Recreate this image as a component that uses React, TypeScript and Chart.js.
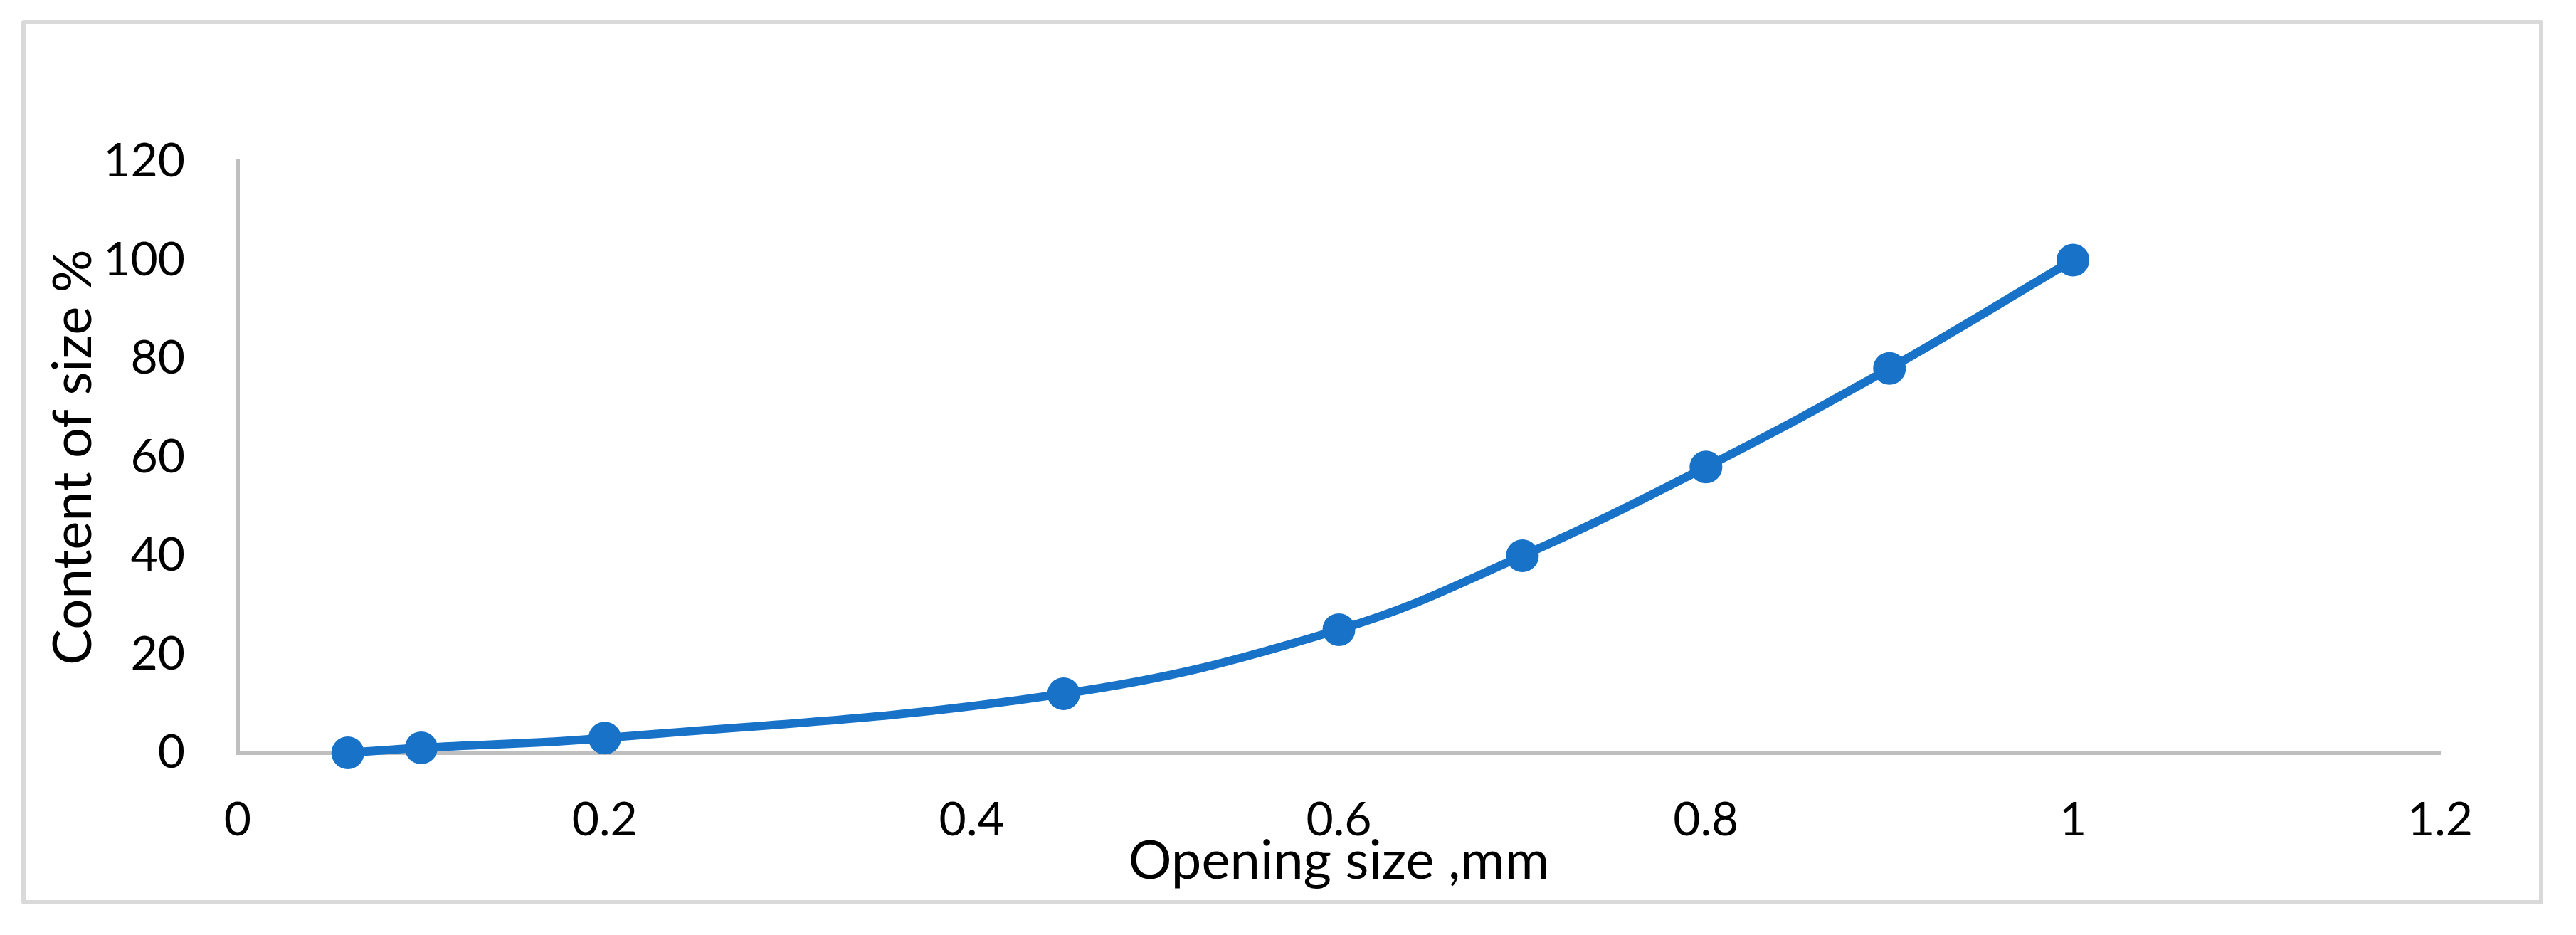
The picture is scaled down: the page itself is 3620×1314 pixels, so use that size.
import React, { useEffect, useRef } from "react";
import { Chart, registerables } from "chart.js";

Chart.register(...registerables);

const openingSizes = [0.06, 0.1, 0.2, 0.45, 0.6, 0.7, 0.8, 0.9, 1.0];
const contentPercent = [0, 1, 3, 12, 25, 40, 58, 78, 100];
const xTickLabels = ["0", "0.2", "0.4", "0.6", "0.8", "1", "1.2"];
const yTickLabels = ["0", "20", "40", "60", "80", "100", "120"];
const xTitle = "Opening size ,mm";
const yTitle = "Content of size %";

const W = 3620;
const H = 1314;
const FONT = "Lato, 'Open Sans', sans-serif";
const BLUE = "#1873C8";

export default function App() {
  const ref = useRef<HTMLCanvasElement | null>(null);

  useEffect(() => {
    if (!ref.current) return;
    const chart = new Chart(ref.current, {
      type: "scatter",
      data: {
        datasets: [
          {
            data: openingSizes.map((x, i) => ({ x, y: contentPercent[i] })),
            showLine: true,
            borderColor: BLUE,
            backgroundColor: BLUE,
            borderWidth: 12,
            tension: 0.4,
            pointRadius: 22,
            pointBorderWidth: 2,
            pointBorderColor: BLUE,
            pointBackgroundColor: BLUE,
            clip: false as any,
          },
        ],
      },
      options: {
        responsive: false,
        animation: false,
        layout: { padding: { left: 0, top: 227, right: 191, bottom: 0 } },
        plugins: { legend: { display: false }, tooltip: { enabled: false } },
        scales: {
          x: {
            type: "linear",
            min: 0,
            max: 1.2,
            afterFit: (s: any) => {
              s.height = H - 1058;
            },
            afterBuildTicks: (s: any) => {
              s.ticks = xTickLabels.map((t) => ({ value: parseFloat(t) }));
            },
            ticks: {
              callback: (_v: any, i: number) => xTickLabels[i],
              font: { family: FONT, size: 66 },
              color: "#000",
              padding: 55,
              maxRotation: 0,
              autoSkip: false,
            },
            grid: { display: false, drawTicks: false },
            border: { display: true, color: "#BFBFBF", width: 6 },
            title: {
              display: true,
              text: xTitle,
              font: { family: FONT, size: 76 },
              color: "#000",
              padding: { top: 0, bottom: 58 },
            },
          },
          y: {
            type: "linear",
            min: 0,
            max: 120,
            afterFit: (s: any) => {
              s.width = 334;
            },
            afterBuildTicks: (s: any) => {
              s.ticks = yTickLabels.map((t) => ({ value: parseFloat(t) }));
            },
            ticks: {
              callback: (_v: any, i: number) => yTickLabels[i],
              font: { family: FONT, size: 66 },
              color: "#000",
              padding: 74,
              autoSkip: false,
            },
            grid: { display: false, drawTicks: false },
            border: { display: true, color: "#BFBFBF", width: 6 },
            title: {
              display: true,
              text: yTitle,
              font: { family: FONT, size: 76 },
              color: "#000",
              padding: { top: 58, bottom: 0 },
            },
          },
        },
      },
    });
    return () => chart.destroy();
  }, []);

  return (
    <div
      style={{
        position: "absolute",
        left: 0,
        top: 0,
        width: W,
        height: H,
        background: "#fff",
      }}
    >
      <div
        style={{
          position: "absolute",
          left: 30,
          top: 28,
          width: 3544,
          height: 1243,
          boxSizing: "border-box",
          border: "6px solid #D9D9D9",
          borderRadius: 4,
        }}
      />
      <canvas
        ref={ref}
        width={W}
        height={H}
        style={{ position: "absolute", left: 0, top: 0, width: W, height: H }}
      />
    </div>
  );
}
